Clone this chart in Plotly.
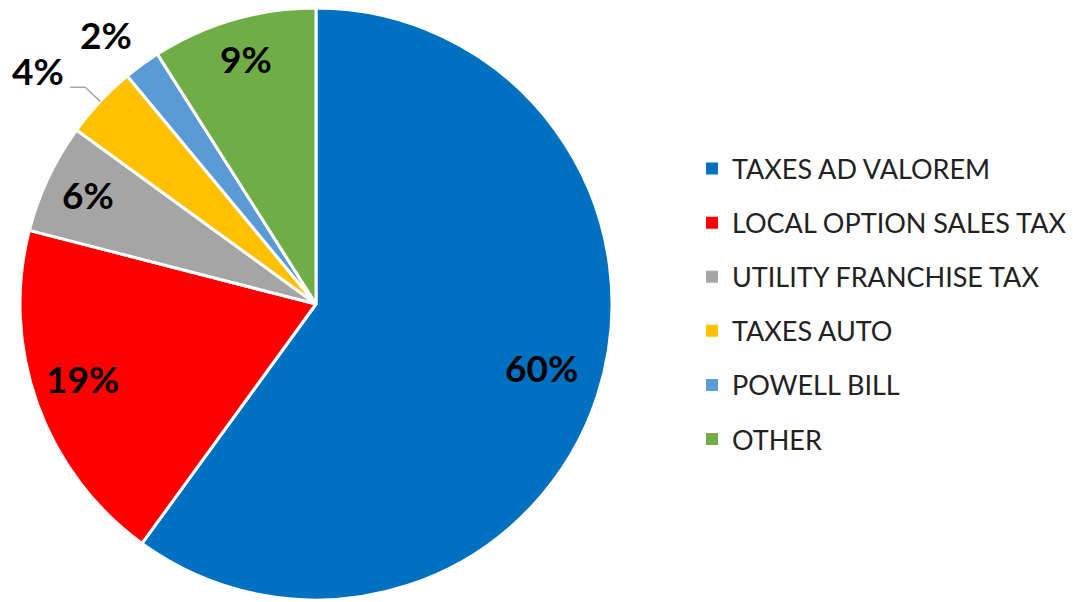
import math
import plotly.graph_objects as go

categories = ["TAXES AD VALOREM", "LOCAL OPTION SALES TAX", "UTILITY FRANCHISE TAX",
              "TAXES AUTO", "POWELL BILL", "OTHER"]
values = [60, 19, 6, 4, 2, 9]
colors = ["#0070C0", "#FF0000", "#A5A5A5", "#FFC000", "#5B9BD5", "#70AD47"]
label_text = ["60%", "19%", "6%", "4%", "2%", "9%"]

W, H = 1073, 602
CX, CY, R = 316, 304, 296  # pie geometry in pixels
LABEL_FONT = dict(family="Lato", size=37, color="black", weight="bold")

fig = go.Figure()
fig.add_trace(go.Pie(
    labels=categories, values=values, sort=False, direction="clockwise", rotation=0,
    marker=dict(colors=colors, line=dict(color="white", width=3)),
    textinfo="none", hoverinfo="label+percent", showlegend=False,
    domain=dict(x=[0, 2 * CX / W], y=[(H - CY - R) / H, (H - CY + R) / H]),
))

# legend entries via dummy traces (for spacing)
for i, (c, col) in enumerate(zip(categories, colors)):
    fig.add_trace(go.Scatter(x=[None], y=[None], mode="markers", name=c,
                             marker=dict(symbol="square", size=12, color=col),
                             legendgroup=str(i), showlegend=True))

def px2paper(x, y):
    return x / W, 1 - y / H

# small per-label nudges (pixels) to mimic the original "best fit" placement
nudges = [(3, 0), (3, -7), (0, 2), (0, 0), (5, 5), (0, 0)]

total = sum(values)
cum = 0
annotations = []
shapes = []
for i, v in enumerate(values):
    mid = (cum + v / 2) / total * 2 * math.pi
    cum += v
    sx, sy = math.sin(mid), -math.cos(mid)
    dx, dy = nudges[i]
    if v >= 5:
        r = 0.85 * R if i != 0 else 0.79 * R
        x, y = CX + r * sx, CY + r * sy
        if i == 0:
            y -= 5
        px, py = px2paper(x + dx, y - 4 + dy)
        annotations.append(dict(x=px, y=py, xref="paper", yref="paper", text=label_text[i],
                                showarrow=False, font=LABEL_FONT,
                                xanchor="center", yanchor="middle"))
    elif i == 3:
        x0, y0 = CX + 1.0 * R * sx, CY + 1.0 * R * sy
        x1, y1 = CX + 1.07 * R * sx, CY + 1.07 * R * sy
        x2 = x1 - 15
        p0 = px2paper(x0, y0); p1 = px2paper(x1, y1); p2 = px2paper(x2, y1)
        shapes.append(dict(type="path", xref="paper", yref="paper",
                           path=f"M {p0[0]},{p0[1]} L {p1[0]},{p1[1]} L {p2[0]},{p2[1]}",
                           line=dict(color="#A6A6A6", width=1.5)))
        lx, ly = px2paper(x2 - 32, y1 - 17)
        annotations.append(dict(x=lx, y=ly, xref="paper", yref="paper", text=label_text[i],
                                showarrow=False, font=LABEL_FONT,
                                xanchor="center", yanchor="middle"))
    else:
        r = 1.145 * R
        x, y = CX + r * sx - 16, CY + r * sy
        px, py = px2paper(x + dx, y + dy)
        annotations.append(dict(x=px, y=py, xref="paper", yref="paper", text=label_text[i],
                                showarrow=False, font=LABEL_FONT,
                                xanchor="center", yanchor="middle"))

fig.update_layout(
    width=W, height=H, margin=dict(l=0, r=0, t=0, b=0),
    paper_bgcolor="white", plot_bgcolor="white",
    xaxis=dict(visible=False), yaxis=dict(visible=False),
    annotations=annotations, shapes=shapes,
    legend=dict(x=692 / W, y=0.495, xanchor="left", yanchor="middle",
                font=dict(family="Lato", size=27, color="#222222"),
                tracegroupgap=16, itemwidth=30, bgcolor="rgba(0,0,0,0)"),
)
fig.write_html("out.html")
